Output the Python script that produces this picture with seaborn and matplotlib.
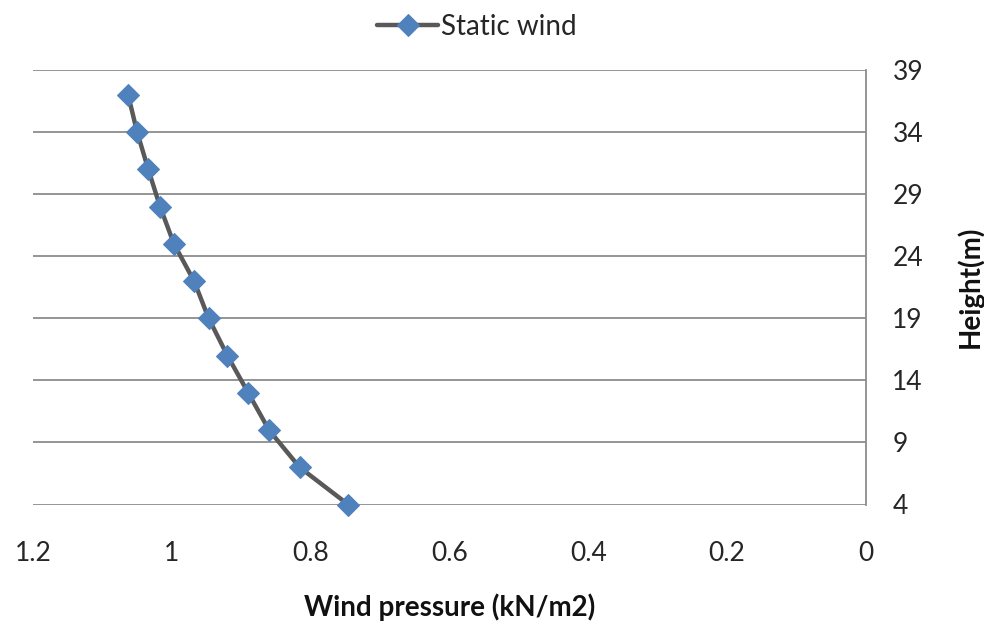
import matplotlib
matplotlib.use("Agg")
import matplotlib.pyplot as plt
import seaborn as sns
import pandas as pd

heights = [37, 34, 31, 28, 25, 22, 19, 16, 13, 10, 7, 4]
pressure = [1.063, 1.050, 1.034, 1.017, 0.997, 0.968, 0.947, 0.920, 0.890, 0.860, 0.816, 0.746]
series_name = "Static wind"
x_ticks = [1.2, 1.0, 0.8, 0.6, 0.4, 0.2, 0.0]
x_tick_labels = ["1.2", "1", "0.8", "0.6", "0.4", "0.2", "0"]
y_ticks = [4, 9, 14, 19, 24, 29, 34, 39]

sns.set_theme(style="white")
plt.rcParams['font.family'] = ['Lato', 'DejaVu Sans']

df = pd.DataFrame({"pressure": pressure, "height": heights, "series": series_name})

fig = plt.figure(figsize=(9.84, 6.22), dpi=100)
ax_h = (504.5 - 70) / 622
ax = fig.add_axes([33/984, 1-504.5/622, (866-33)/984, ax_h])

sns.lineplot(data=df, x="pressure", y="height", sort=False, estimator=None,
             color="#595959", linewidth=3.2, marker="D", markersize=11,
             markerfacecolor="#4F81BD", markeredgecolor="#4F81BD",
             label=series_name, ax=ax, zorder=3, clip_on=False)

ax.set_xlim(1.2, 0.0)
ax.set_ylim(4, 39)
ax.set_xticks(x_ticks)
ax.set_xticklabels(x_tick_labels)
ax.set_yticks(y_ticks)
ax.yaxis.tick_right()
ax.yaxis.set_label_position("right")
ax.grid(axis="y", color="#8c8c8c", linewidth=1.3)
ax.grid(axis="x", visible=False)
for s in ["top", "left", "bottom"]:
    ax.spines[s].set_visible(False)
ax.spines["right"].set_color("#8c8c8c")
ax.spines["right"].set_linewidth(1.3)
ax.tick_params(axis="y", length=0, pad=19, labelsize=19, colors="#262626")
ax.tick_params(axis="x", length=0, pad=26, labelsize=19, colors="#262626")
for lbl in ax.get_yticklabels():
    lbl.set_horizontalalignment("left")

ax.set_xlabel("Wind pressure (kN/m2)", fontsize=20, fontweight="bold", color="#111111",
              va="center")
ax.xaxis.set_label_coords(0.5, (504.5 - 607) / 434.5)
ax.set_ylabel("Height(m)", fontsize=20, fontweight="bold", color="#111111",
              va="center", rotation=90)
ax.yaxis.set_label_coords((970 - 33) / 833, 0.5)

leg = ax.legend(loc="center", bbox_to_anchor=((477 - 33) / 833, (504.5 - 27) / 434.5),
                frameon=False, fontsize=20, handlelength=2.2, handletextpad=0.1,
                borderaxespad=0, borderpad=0)
for t in leg.get_texts():
    t.set_color("#262626")

fig.savefig("out.png", dpi=100)
